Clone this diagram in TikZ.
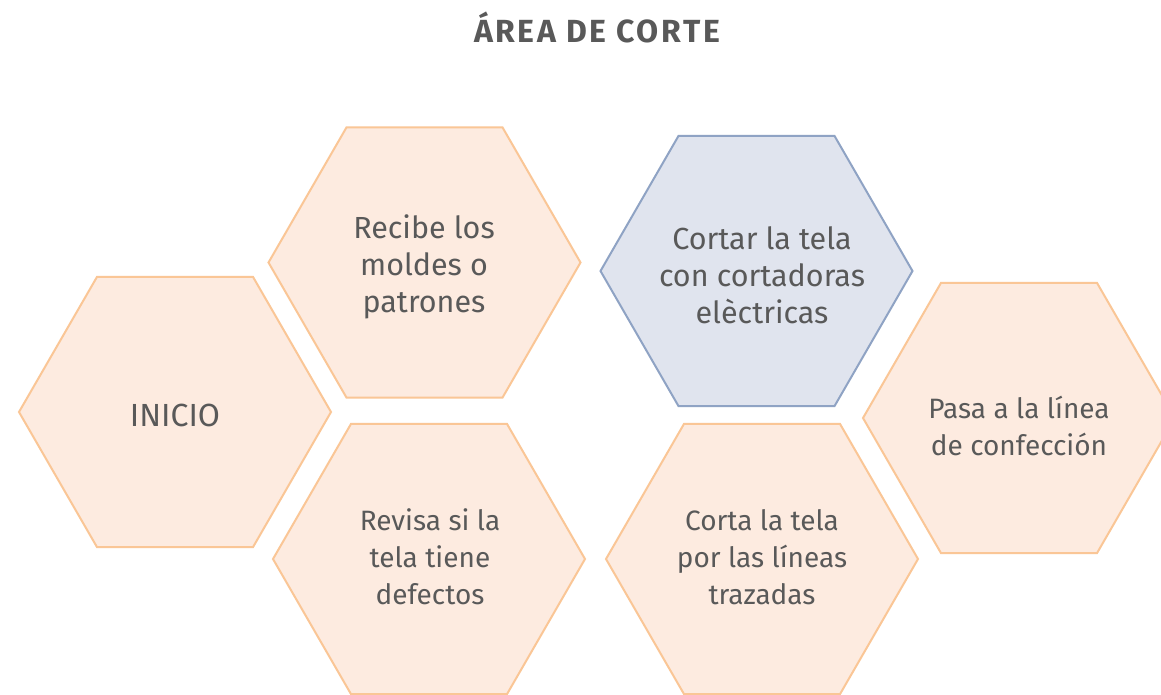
\documentclass[tikz,border=0pt]{standalone}
\usepackage{fontspec}
\setmainfont{Fira Sans}
\usetikzlibrary{shapes.geometric}
\definecolor{peachfill}{RGB}{253,235,224}
\definecolor{peachline}{RGB}{250,198,150}
\definecolor{bluefill}{RGB}{224,228,238}
\definecolor{blueline}{RGB}{143,163,196}
\definecolor{txt}{RGB}{89,89,89}
\begin{document}
\begin{tikzpicture}[x=1pt,y=-1pt,
  hexa/.style={regular polygon, regular polygon sides=6, minimum size=312pt,
    inner sep=0pt, outer sep=0pt, line width=2pt, draw=peachline, fill=peachfill},
  hexb/.style={hexa, draw=blueline, fill=bluefill},
  lblbig/.style={text=txt, align=center, inner sep=0pt, font=\fontsize{30.5}{37}\selectfont},
  lblsmall/.style={text=txt, align=center, inner sep=0pt, font=\fontsize{28}{37}\selectfont},
  titlestyle/.style={text=txt, inner sep=0pt, font=\fontsize{32}{34}\selectfont\bfseries\addfontfeature{LetterSpace=8}}]
\useasboundingbox (0,0) rectangle (1161,694);
\clip (0,0) rectangle (1161,694);
\fill[white] (0,0) rectangle (1161,694);
\node[titlestyle] (title) at (597,27) {ÁREA DE CORTE};
\node[hexa] (h1) at (175,412) {};
\node[hexa] (h2) at (424.5,262.5) {};
\node[hexa] (h3) at (429,559) {};
\node[hexb] (h4) at (756.5,271) {};
\node[hexa] (h5) at (762,559) {};
\node[hexa] (h6) at (1019,418) {};
\node[lblbig, font=\fontsize{32}{37}\selectfont] (t1) at (175,415) {INICIO};
\node[lblbig] (t2) at (424,267) {Recibe los\\moldes o\\patrones};
\node[lblsmall] (t3) at (430,557) {Revisa si la\\tela tiene\\defectos};
\node[lblbig] (t4) at (762,275) {Cortar la tela\\con cortadoras\\elèctricas};
\node[lblsmall] (t5) at (762,557) {Corta la tela\\por las líneas\\trazadas};
\node[lblsmall] (t6) at (1019,426) {Pasa a la línea\\de confección};
\end{tikzpicture}
\end{document}
